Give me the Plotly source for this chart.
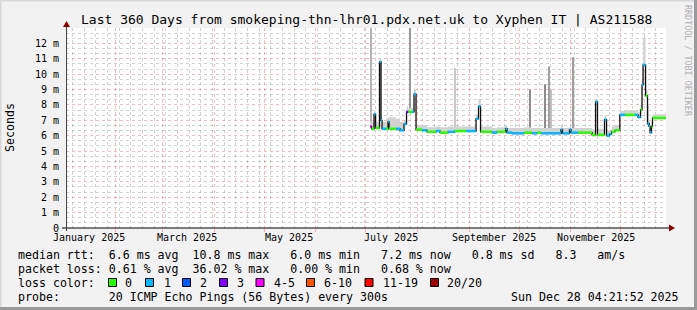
import plotly.graph_objects as go
import pandas as pd

# ---------------- data ----------------
start = "2025-01-02 04:21:52"
end = "2025-12-28 04:21:52"

step_dates = [
    "2025-07-03 14:00", "2025-07-04 12:00", "2025-07-06 00:00", "2025-07-06 22:00",
    "2025-07-09 07:00", "2025-07-10 05:00", "2025-07-10 19:00", "2025-07-13 05:00",
    "2025-07-14 10:00", "2025-07-15 00:00", "2025-07-19 05:00", "2025-07-21 14:00",
    "2025-07-24 00:00", "2025-07-25 12:00", "2025-07-26 10:00", "2025-07-28 19:00",
    "2025-07-30 00:00", "2025-07-31 05:00", "2025-08-03 19:00", "2025-08-06 19:00",
    "2025-08-12 05:00", "2025-08-14 14:00", "2025-08-19 10:00", "2025-08-23 14:00",
    "2025-08-30 05:00", "2025-09-05 05:00", "2025-09-06 17:00", "2025-09-07 22:00",
    "2025-09-14 19:00", "2025-09-17 19:00", "2025-09-22 22:00", "2025-09-23 19:00",
    "2025-09-26 19:00", "2025-10-04 00:00", "2025-10-08 19:00", "2025-10-11 19:00",
    "2025-10-14 05:00", "2025-10-26 05:00", "2025-10-27 02:00", "2025-10-31 07:00",
    "2025-11-01 05:00", "2025-11-05 10:00", "2025-11-13 19:00", "2025-11-15 22:00",
    "2025-11-17 02:00", "2025-11-21 07:00", "2025-11-22 12:00", "2025-11-24 07:00",
    "2025-11-25 12:00", "2025-11-27 14:00", "2025-11-30 12:00", "2025-12-03 14:00",
    "2025-12-09 14:00", "2025-12-11 10:00", "2025-12-12 22:00", "2025-12-13 19:00",
    "2025-12-14 10:00", "2025-12-15 22:00", "2025-12-17 02:00", "2025-12-18 00:00",
    "2025-12-18 14:00", "2025-12-19 12:00", "2025-12-20 02:00",
]
median_ms = [
    6.6, 6.45, 7.4, 6.5, 10.8, 7.0, 6.45, 6.45, 6.9, 6.45, 6.45, 6.35,
    6.75, 7.55, 7.55, 7.55, 8.7, 6.4, 6.35, 6.25, 6.3, 6.2, 6.25, 6.3,
    6.3, 7.1, 7.9, 6.25, 6.2, 6.25, 6.45, 6.2, 6.15, 6.2, 6.15, 6.2,
    6.15, 6.4, 6.15, 6.4, 6.2, 6.2, 6.05, 8.2, 6.05, 7.05, 6.0, 6.1,
    6.25, 6.35, 7.35, 7.35, 7.35, 7.2, 7.7, 9.3, 10.6, 8.6, 6.8, 6.6,
    6.2, 6.6, 7.15,
]
loss_class = [
    4, 0, 1, 0, 1, 1, 1, 0, 1, 0, 1, 1,
    1, 3, 0, 1, 1, 0, 1, 0, 1, 0, 1, 0,
    1, 1, 1, 0, 1, 0, 1, 1, 1, 0, 1, 0,
    1, 1, 1, 1, 1, 0, 0, 1, 0, 1, 1, 1,
    0, 0, 1, 0, 1, 1, 0, 1, 1, 0, 1, 1,
    1, 0, 0,
]
smoke_top_ms = [
    6.9, 6.9, 7.6, 6.9, 11.0, 7.2, 6.9, 7.1, 7.2, 7.2, 7.1, 6.9,
    7.0, 7.9, 7.8, 7.8, 9.0, 6.7, 6.7, 6.55, 6.6, 6.55, 6.6, 6.6,
    6.6, 7.4, 8.4, 6.6, 6.5, 6.55, 6.7, 6.5, 6.5, 6.55, 6.5, 6.5,
    6.5, 6.7, 6.5, 6.7, 6.5, 6.5, 6.4, 8.4, 6.45, 7.3, 6.3, 6.4,
    6.6, 6.7, 7.6, 7.65, 7.6, 7.5, 8.0, 9.6, 12.4, 9.0, 7.9, 7.0,
    6.6, 6.9, 7.4,
]

spike_dates = ["2025-07-04 00:00", "2025-07-27 14:00", "2025-08-23 14:00",
               "2025-10-07 14:00", "2025-10-16 14:00", "2025-10-19 00:00",
               "2025-10-20 00:00", "2025-11-02 17:00", "2025-12-17 10:00"]
spike_base_ms = [6.5, 7.55, 6.3, 6.15, 6.15, 6.15, 6.15, 6.2, 6.7]
spike_top_ms = [13.0, 13.0, 10.4, 9.0, 9.35, 10.5, 9.0, 11.1, 7.9]
spike_shade = ["#b4b4b4", "#9a9a9a", "#c8c8c8", "#8c8c8c", "#8c8c8c",
               "#a0a0a0", "#c0c0c0", "#a0a0a0", "#707070"]

loss_colors = ["#26ff00", "#00b8ff", "#0059ff", "#7e00ff", "#ff00ff",
               "#ff5500", "#ff0000", "#a10000"]
loss_labels = ["0", "1", "2", "3", "4-5", "6-10", "11-19", "20/20"]

y_tick_vals = list(range(0, 13))
y_tick_text = ["0"] + [f"{v} m" for v in range(1, 13)]
month_labels = ["January 2025", "March 2025", "May 2025", "July 2025",
                "September 2025", "November 2025"]
month_label_dates = ["2025-01-16", "2025-03-16", "2025-05-16", "2025-07-16",
                     "2025-09-16", "2025-11-16"]

title = "Last 360 Days from smokeping-thn-lhr01.pdx.net.uk to Xyphen IT | AS211588"
stats_lines = [
    "median rtt:  6.6 ms avg  10.8 ms max   6.0 ms min   7.2 ms now   0.8 ms sd   8.3   am/s",
    "packet loss: 0.61 % avg  36.02 % max   0.00 % min   0.68 % now",
    "loss color:",
    "probe:       20 ICMP Echo Pings (56 Bytes) every 300s",
]
timestamp = "Sun Dec 28 04:21:52 2025"

# ---------------- geometry helpers ----------------
W, H = 697, 310
L, R, T, B = 66, 666, 28, 228
MONO = "DejaVu Sans Mono"


def px(x):
    return (x - L) / (R - L)


def py(y):
    return (B - y) / (B - T)


nb = lambda s: s.replace(" ", "\u00a0")

dates = pd.to_datetime(step_dates)
ext_dates = list(dates) + [pd.Timestamp(end)]
ext_med = median_ms + [median_ms[-1]]
ext_top = smoke_top_ms + [smoke_top_ms[-1]]

fig = go.Figure()

# smoke band
fig.add_trace(go.Scatter(x=ext_dates, y=ext_med, mode="lines", line=dict(width=0, shape="hv"),
                         hoverinfo="skip", showlegend=False))
fig.add_trace(go.Scatter(x=ext_dates, y=ext_top, mode="lines", line=dict(width=0, shape="hv"),
                         fill="tonexty", fillcolor="#d2d2d2", hoverinfo="skip", showlegend=False))

# smoke spikes
fig.add_trace(go.Bar(x=pd.to_datetime(spike_dates),
                     y=[t - b for t, b in zip(spike_top_ms, spike_base_ms)],
                     base=spike_base_ms, width=0.75 * 86400000,
                     marker=dict(color=spike_shade, line=dict(width=0)),
                     hoverinfo="skip", showlegend=False))

# median line (black)
fig.add_trace(go.Scatter(x=ext_dates, y=ext_med, mode="lines",
                         line=dict(color="#101010", width=1.3, shape="hv"),
                         hoverinfo="skip", showlegend=False))

# loss coloured segments
for ci, col in enumerate(loss_colors):
    xs, ys = [], []
    for i in range(len(step_dates)):
        if loss_class[i] == ci:
            xs += [ext_dates[i], ext_dates[i + 1], None]
            ys += [median_ms[i], median_ms[i], None]
    if xs:
        fig.add_trace(go.Scatter(x=xs, y=ys, mode="lines", line=dict(color=col, width=2.5),
                                 hoverinfo="skip", showlegend=False))

month_starts = pd.date_range("2025-02-01", "2025-12-01", freq="MS")
minor_vals = [d for d in pd.date_range("2025-01-06", "2025-12-28", freq="7D")
              if d.day != 1]
y_minor_vals = [k / 3 for k in range(0, 40) if k % 3 != 0]

MAJ = "rgba(255,40,40,0.33)"
MIN = "rgba(120,120,120,0.33)"

fig.update_layout(
    width=W, height=H, autosize=False,
    margin=dict(l=L, r=W - R, t=T, b=H - B, pad=0),
    paper_bgcolor="#f2f2f2", plot_bgcolor="#ffffff",
    barmode="overlay", showlegend=False,
    font=dict(family=MONO, color="#000000"),
    xaxis=dict(type="date", range=[start, end], automargin=False,
               tickmode="array", tickvals=list(month_starts), ticktext=[""] * len(month_starts),
               ticks="outside", ticklen=3, tickcolor=MAJ, tickwidth=1,
               showgrid=True, gridcolor=MAJ, griddash="dot", gridwidth=1,
               zeroline=False, showline=False,
               minor=dict(tickmode="array", tickvals=minor_vals, showgrid=True,
                          gridcolor=MIN, griddash="dot", gridwidth=1, ticks="")),
    yaxis=dict(range=[0, 13], automargin=False, tickmode="array",
               tickvals=y_tick_vals, ticktext=y_tick_text, ticklabelstandoff=6,
               tickfont=dict(family=MONO, size=10, color="#000"), ticks="",
               showgrid=True, gridcolor=MAJ, griddash="dot", gridwidth=1,
               zeroline=False, showline=False,
               minor=dict(tickmode="array", tickvals=y_minor_vals, showgrid=True,
                          gridcolor=MIN, griddash="dot", gridwidth=1, ticks="")),
)

ann = []
ann.append(dict(text=nb(title), x=0.5, xref="paper", y=py(19), yref="paper",
                xanchor="center", yanchor="middle", showarrow=False,
                font=dict(family=MONO, size=13, color="#000")))
for lab, d in zip(month_labels, month_label_dates):
    ann.append(dict(text=lab, x=d, xref="x", y=py(237), yref="paper", xanchor="center",
                    yanchor="middle", showarrow=False, font=dict(family=MONO, size=10, color="#000")))
row_y = [254.5, 268.5, 282.5, 296.5]
for s, yy in zip(stats_lines, row_y):
    ann.append(dict(text=nb(s), x=px(16), xref="paper", y=py(yy), yref="paper",
                    xanchor="left", yanchor="middle", showarrow=False,
                    font=dict(family=MONO, size=11.6, color="#000")))
ann.append(dict(text=nb(timestamp), x=px(681), xref="paper", y=py(row_y[3]), yref="paper",
                xanchor="right", yanchor="middle", showarrow=False,
                font=dict(family=MONO, size=11.6, color="#000")))
ann.append(dict(text="Seconds", x=px(10), xref="paper", y=py(128), yref="paper",
                xanchor="center", yanchor="middle", textangle=-90, showarrow=False,
                font=dict(family=MONO, size=11.6, color="#000")))
ann.append(dict(text=nb("RRDTOOL / TOBI OETIKER"), x=px(688), xref="paper", y=py(61),
                yref="paper", xanchor="center", yanchor="middle", textangle=90,
                showarrow=False, font=dict(family=MONO, size=8.4, color="#b0b0b0")))

box_left = [108.5, 145.5, 182.5, 219.5, 256, 306.5, 365, 430.5]
label_left = [123, 161.5, 197.5, 235, 271.5, 322, 380.5, 445.5]
shapes = []
for col, lab, bx, lx in zip(loss_colors, loss_labels, box_left, label_left):
    shapes.append(dict(type="rect", xref="paper", yref="paper", x0=px(bx), x1=px(bx + 8),
                       y0=py(286.5), y1=py(278.5), fillcolor=col,
                       line=dict(color="#000", width=1)))
    ann.append(dict(text=nb(lab), x=px(lx), xref="paper", y=py(row_y[2]), yref="paper",
                    xanchor="left", yanchor="middle", showarrow=False,
                    font=dict(family=MONO, size=11.6, color="#000")))

# axes lines + arrows
shapes.append(dict(type="line", xref="paper", yref="paper", x0=px(62), x1=px(670),
                   y0=py(228), y1=py(228), line=dict(color="#000", width=1)))
shapes.append(dict(type="line", xref="paper", yref="paper", x0=px(66.5), x1=px(66.5),
                   y0=py(231), y1=py(26), line=dict(color="#444", width=1)))
shapes.append(dict(type="path", xref="paper", yref="paper",
                   path=f"M {px(669)} {py(224.5)} L {px(675)} {py(228)} L {px(669)} {py(231.5)} Z",
                   fillcolor="#8b0000", line=dict(width=0)))
shapes.append(dict(type="path", xref="paper", yref="paper",
                   path=f"M {px(63)} {py(27)} L {px(66.5)} {py(21)} L {px(70)} {py(27)} Z",
                   fillcolor="#8b0000", line=dict(width=0)))
# frame (3D border)
shapes.append(dict(type="line", xref="paper", yref="paper", x0=px(0), x1=px(697),
                   y0=py(0.5), y1=py(0.5), line=dict(color="#d8d8d8", width=2)))
shapes.append(dict(type="line", xref="paper", yref="paper", x0=px(0.5), x1=px(0.5),
                   y0=py(0), y1=py(310), line=dict(color="#d8d8d8", width=2)))
shapes.append(dict(type="line", xref="paper", yref="paper", x0=px(0), x1=px(697),
                   y0=py(308.5), y1=py(308.5), line=dict(color="#9a9a9a", width=3)))
shapes.append(dict(type="line", xref="paper", yref="paper", x0=px(695.5), x1=px(695.5),
                   y0=py(0), y1=py(310), line=dict(color="#9a9a9a", width=3)))

fig.update_layout(annotations=ann, shapes=shapes)
fig.write_html("out.html")
